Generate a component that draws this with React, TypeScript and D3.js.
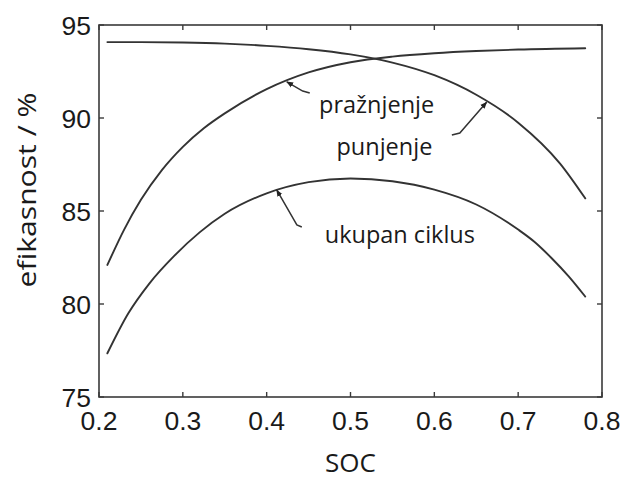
import React from "react";
import * as d3 from "d3";

// SOC sample points and efficiency values (%)
const socA = [0.21, 0.25, 0.3, 0.35, 0.4, 0.45, 0.5, 0.55, 0.6, 0.65, 0.7, 0.75, 0.78];
const effA = [94.08, 94.08, 94.06, 94.0, 93.88, 93.7, 93.42, 92.98, 92.3, 91.25, 89.75, 87.55, 85.68];

const socB = [0.21, 0.23, 0.25, 0.275, 0.3, 0.325, 0.35, 0.4, 0.45, 0.5, 0.55, 0.6, 0.65, 0.7, 0.78];
const effB = [82.1, 84.0, 85.6, 87.2, 88.45, 89.45, 90.25, 91.55, 92.45, 93.0, 93.3, 93.48, 93.6, 93.68, 93.75];

const socC = [0.21, 0.235, 0.26, 0.29, 0.32, 0.35, 0.4, 0.45, 0.5, 0.55, 0.6, 0.65, 0.7, 0.72, 0.74, 0.76, 0.78];
const effC = [77.35, 79.5, 81.1, 82.6, 83.85, 84.85, 85.95, 86.55, 86.75, 86.6, 86.15, 85.35, 84.0, 83.32, 82.46, 81.5, 80.4];

const xTicks = [0.2, 0.3, 0.4, 0.5, 0.6, 0.7, 0.8];
const yTicks = [75, 80, 85, 90, 95];

const xTitle = "SOC";
const yTitle = "efikasnost / %";

// annotation labels (text, SOC, efficiency at baseline start)
const labelText = ["pražnjenje", "punjenje", "ukupan ciklus"];
const labelSoc = [0.4625, 0.4833, 0.4693];
const labelEff = [90.27, 88.01, 83.28];

// leader arrows: tip -> bend -> tail in data units
const arrowSoc = [
  [0.424, 0.443, 0.4514],
  [0.6623, 0.6304, 0.6209],
  [0.412, 0.436, 0.4419],
];
const arrowEff = [
  [91.94, 91.45, 91.34],
  [90.85, 89.19, 89.09],
  [86.13, 84.25, 84.14],
];

const W = 624;
const H = 480;
const M = { left: 99, right: 22, top: 25, bottom: 83 };

export default function App() {
  const x = d3.scaleLinear().domain([0.2, 0.8]).range([M.left, W - M.right]);
  const y = d3.scaleLinear().domain([75, 95]).range([H - M.bottom, M.top]);
  const line = d3
    .line<[number, number]>()
    .x((d) => x(d[0]))
    .y((d) => y(d[1]))
    .curve(d3.curveMonotoneX);
  const series = [
    socA.map((s, i) => [s, effA[i]] as [number, number]),
    socB.map((s, i) => [s, effB[i]] as [number, number]),
    socC.map((s, i) => [s, effC[i]] as [number, number]),
  ];
  const arrowLine = d3
    .line<[number, number]>()
    .x((d) => x(d[0]))
    .y((d) => y(d[1]));
  const x0 = M.left;
  const x1 = W - M.right;
  const y0 = H - M.bottom;
  const y1 = M.top;
  const tk = 5;
  const col = "#3a3a3a";
  const tickFont = "'Liberation Sans', Arial, sans-serif";
  const textFont = "'Open Sans', 'Noto Sans', sans-serif";
  return (
    <div style={{ position: "absolute", left: 0, top: 0 }}>
      <svg width={W} height={H} style={{ display: "block", background: "#fff" }}>
        <defs>
          <marker id="ah" viewBox="0 0 10 10" refX="9" refY="5" markerWidth="7" markerHeight="7" orient="auto-start-reverse" markerUnits="userSpaceOnUse">
            <path d="M0,1 L10,5 L0,9 z" fill="#222" />
          </marker>
        </defs>
        {/* curves */}
        {series.map((d, i) => (
          <path key={i} d={line(d) || ""} fill="none" stroke="#333" strokeWidth={1.9} strokeLinecap="round" />
        ))}
        {/* arrows */}
        {arrowSoc.map((ss, i) => {
          const pts = ss.map((s, j) => [s, arrowEff[i][j]] as [number, number]).reverse();
          return (
            <path key={i} d={arrowLine(pts) || ""} fill="none" stroke="#333" strokeWidth={1.5} markerEnd="url(#ah)" />
          );
        })}
        {/* labels */}
        {labelText.map((t, i) => (
          <text key={t} x={x(labelSoc[i])} y={y(labelEff[i])} fontFamily={textFont} fontSize={23.5} fill="#1a1a1a">
            {t}
          </text>
        ))}
        {/* frame */}
        <rect x={x0} y={y1} width={x1 - x0} height={y0 - y1} fill="none" stroke={col} strokeWidth={1.6} />
        {/* x ticks */}
        {xTicks.map((t) => (
          <g key={"x" + t}>
            <line x1={x(t)} x2={x(t)} y1={y0} y2={y0 - tk} stroke={col} strokeWidth={1.4} />
            <line x1={x(t)} x2={x(t)} y1={y1} y2={y1 + tk} stroke={col} strokeWidth={1.4} />
            <text x={x(t)} y={y0 + 33} textAnchor="middle" fontFamily={tickFont} fontSize={26.5} fill="#1a1a1a">
              {d3.format(".1f")(t)}
            </text>
          </g>
        ))}
        {/* y ticks */}
        {yTicks.map((t) => (
          <g key={"y" + t}>
            <line x1={x0} x2={x0 + tk} y1={y(t)} y2={y(t)} stroke={col} strokeWidth={1.4} />
            <line x1={x1} x2={x1 - tk} y1={y(t)} y2={y(t)} stroke={col} strokeWidth={1.4} />
            <text x={x0 - 8} y={y(t)} dy="0.36em" textAnchor="end" fontFamily={tickFont} fontSize={26.5} fill="#1a1a1a">
              {t}
            </text>
          </g>
        ))}
        {/* axis titles */}
        <text x={(x0 + x1) / 2} y={472} textAnchor="middle" fontFamily={textFont} fontSize={26} fill="#1a1a1a">
          {xTitle}
        </text>
        <text
          transform={`translate(36,${190}) rotate(-90)`}
          textAnchor="middle"
          fontFamily={textFont}
          fontSize={25}
          textLength={195}
          lengthAdjust="spacingAndGlyphs"
          fill="#1a1a1a"
        >
          {yTitle}
        </text>
      </svg>
    </div>
  );
}
